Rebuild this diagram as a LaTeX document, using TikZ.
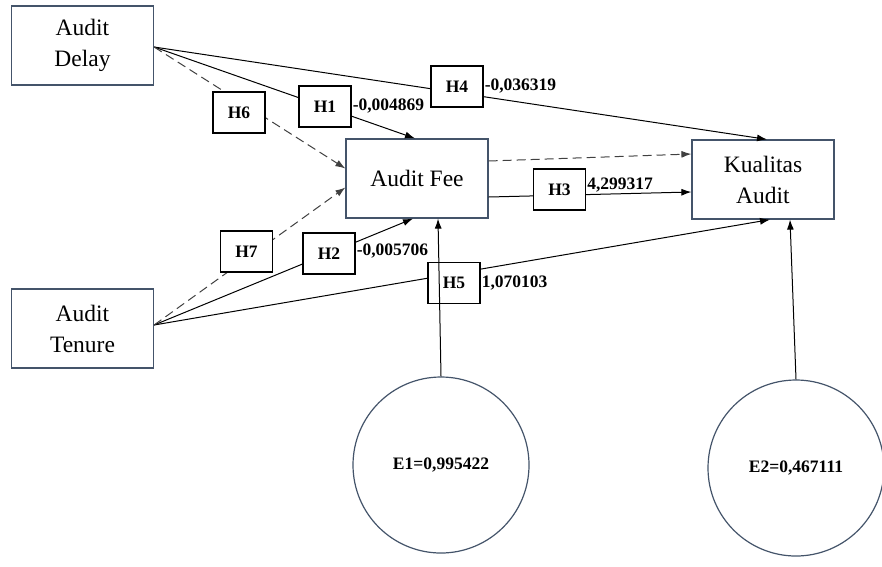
\documentclass[tikz,border=0pt]{standalone}
\usepackage{fontspec}
\setmainfont{Liberation Serif}
\usepackage{tikz}
\usetikzlibrary{arrows.meta}

\definecolor{boxBlue}{HTML}{44546A}

\begin{document}
\begin{tikzpicture}[x=1pt, y=-1pt,
	var/.style={draw=boxBlue, line width=1.2pt, minimum width=142pt, minimum height=79pt, inner sep=0pt, align=center, font=\fontsize{23.5}{31}\selectfont},
	hyp/.style={draw, fill=white, line width=1.1pt, minimum width=52pt, minimum height=41pt, inner sep=0pt, font=\fontsize{17.5}{20}\selectfont\bfseries},
	coef/.style={anchor=west, inner sep=1pt, font=\fontsize{17.5}{20}\selectfont\bfseries},
	err/.style={circle, draw=boxBlue, line width=1.2pt, minimum size=176pt, inner sep=0pt, font=\fontsize{17.5}{20}\selectfont\bfseries},
	arrow/.style={line width=1pt, -{Latex[length=10pt,width=7pt]}},
	dArrow/.style={arrow, dash pattern=on 9pt off 5pt, draw=black!75}
	]
	
	\useasboundingbox (0,0) rectangle (882,566);
	
	% variables
	\node[var] (Delay) at (82.5,45.5) {Audit\\Delay};
	\node[var] (Tenure) at (82.5,328.5) {Audit\\Tenure};
	\node[var] (Fee) at (417,178.5) {Audit Fee};
	\node[var] (Kual) at (763,179.5) {Kualitas\\Audit};
	
	% error terms
	\node[err] (E1) at (441,465) {E1=0,995422};
	\node[err] (E2) at (796,468) {E2=0,467111};
	
	% Audit Delay
	\draw[arrow] ([yshift=-1.5pt]Delay.east) -- ([xshift=-2pt]Fee.north);
	\draw[arrow] ([yshift=-1.5pt]Delay.east) -- ([xshift=4pt]Kual.north);
	\draw[dArrow] ([yshift=-1.5pt]Delay.east) -- ([yshift=10pt]Fee.west);
	
	% Audit Tenure
	\draw[arrow] ([yshift=3.5pt]Tenure.east) -- ([xshift=-4pt]Fee.south);
	\draw[arrow] ([yshift=3.5pt]Tenure.east) -- ([xshift=7pt]Kual.south);
	\draw[dArrow] ([yshift=3.5pt]Tenure.east) -- ([yshift=-9pt]Fee.west);
	
	% Audit Fee to Kualitas Audit
	\draw[dArrow] ([yshift=17.5pt]Fee.east) -- ([yshift=25.5pt]Kual.west);
	\draw[arrow] ([yshift=-18.5pt]Fee.east) -- ([yshift=-12.5pt]Kual.west);
	
	% hypotheses
	\node[hyp] (H1) at (325,106.5) {H1};
	\node[hyp] (H2) at (329,253.5) {H2};
	\node[hyp] (H3) at (559.5,189.5) {H3};
	\node[hyp] (H4) at (457,86.5) {H4};
	\node[hyp] (H5) at (454,283) {H5};
	\node[hyp] (H6) at (239,112.5) {H6};
	\node[hyp] (H7) at (246.5,251.5) {H7};
	
	\node[coef] (c1) at (H1.east) {-0,004869};
	\node[coef] (c2) at ([yshift=2pt]H2.east) {-0,005706};
	\node[coef] (c3) at ([yshift=4pt]H3.east) {4,299317};
	\node[coef] (c4) at (H4.east) {-0,036319};
	\node[coef] (c5) at (H5.east) {1,070103};
	
	\draw[arrow] (E1.north) -- ([xshift=21pt]Fee.south);
	\draw[arrow] (E2.north) -- ([xshift=27pt]Kual.south);
\end{tikzpicture}
\end{document}
